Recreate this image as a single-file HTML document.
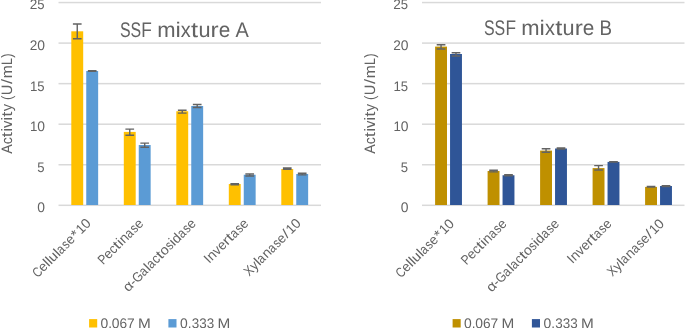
<!DOCTYPE html>
<html><head><meta charset="utf-8"><title>SSF mixtures A and B</title><style>
html,body{margin:0;padding:0;background:#fff;}
body{width:685px;height:328px;overflow:hidden;}
svg{display:block;will-change:transform;}
text{font-family:"Liberation Sans",sans-serif;fill:#636363;text-rendering:geometricPrecision;}
</style></head><body>
<svg width="685" height="328" viewBox="0 0 685 328">
<rect width="685" height="328" fill="#fff"/>

<rect x="58.50" y="204.55" width="262.50" height="1.5" fill="#D9D9D9"/>
<rect x="58.50" y="164.00" width="262.50" height="1.5" fill="#D9D9D9"/>
<rect x="58.50" y="123.45" width="262.50" height="1.5" fill="#D9D9D9"/>
<rect x="58.50" y="82.90" width="262.50" height="1.5" fill="#D9D9D9"/>
<rect x="58.50" y="42.35" width="262.50" height="1.5" fill="#D9D9D9"/>
<rect x="58.50" y="1.80" width="262.50" height="1.5" fill="#D9D9D9"/>
<rect x="71.30" y="31.30" width="11.9" height="173.70" fill="#FFC000"/>
<rect x="86.25" y="71.00" width="11.9" height="134.00" fill="#5B9BD5"/>
<path d="M72.90 24.00H81.60M77.25 24.00V38.80M72.90 38.80H81.60" stroke="#636363" stroke-width="1.4" fill="none"/>
<path d="M87.85 70.80H96.55M92.20 70.80V71.40M87.85 71.40H96.55" stroke="#636363" stroke-width="1.4" fill="none"/>
<rect x="123.80" y="131.90" width="11.9" height="73.10" fill="#FFC000"/>
<rect x="138.75" y="145.00" width="11.9" height="60.00" fill="#5B9BD5"/>
<path d="M125.40 129.10H134.10M129.75 129.10V135.25M125.40 135.25H134.10" stroke="#636363" stroke-width="1.4" fill="none"/>
<path d="M140.35 143.10H149.05M144.70 143.10V147.25M140.35 147.25H149.05" stroke="#636363" stroke-width="1.4" fill="none"/>
<rect x="176.30" y="111.25" width="11.9" height="93.75" fill="#FFC000"/>
<rect x="191.25" y="106.00" width="11.9" height="99.00" fill="#5B9BD5"/>
<path d="M177.90 110.25H186.60M182.25 110.25V113.10M177.90 113.10H186.60" stroke="#636363" stroke-width="1.4" fill="none"/>
<path d="M192.85 104.50H201.55M197.20 104.50V107.50M192.85 107.50H201.55" stroke="#636363" stroke-width="1.4" fill="none"/>
<rect x="228.80" y="184.00" width="11.9" height="21.00" fill="#FFC000"/>
<rect x="243.75" y="174.75" width="11.9" height="30.25" fill="#5B9BD5"/>
<path d="M230.40 183.60H239.10M234.75 183.60V184.90M230.40 184.90H239.10" stroke="#636363" stroke-width="1.4" fill="none"/>
<path d="M245.35 174.00H254.05M249.70 174.00V176.00M245.35 176.00H254.05" stroke="#636363" stroke-width="1.4" fill="none"/>
<rect x="281.30" y="169.00" width="11.9" height="36.00" fill="#FFC000"/>
<rect x="296.25" y="174.00" width="11.9" height="31.00" fill="#5B9BD5"/>
<path d="M282.90 167.90H291.60M287.25 167.90V169.30M282.90 169.30H291.60" stroke="#636363" stroke-width="1.4" fill="none"/>
<path d="M297.85 173.30H306.55M302.20 173.30V174.90M297.85 174.90H306.55" stroke="#636363" stroke-width="1.4" fill="none"/>
<rect x="89.10" y="319.1" width="8.1" height="8.4" fill="#FFC000"/>
<rect x="168.40" y="319.1" width="8.1" height="8.4" fill="#5B9BD5"/>
<rect x="422.00" y="204.55" width="262.50" height="1.5" fill="#D9D9D9"/>
<rect x="422.00" y="164.00" width="262.50" height="1.5" fill="#D9D9D9"/>
<rect x="422.00" y="123.45" width="262.50" height="1.5" fill="#D9D9D9"/>
<rect x="422.00" y="82.90" width="262.50" height="1.5" fill="#D9D9D9"/>
<rect x="422.00" y="42.35" width="262.50" height="1.5" fill="#D9D9D9"/>
<rect x="422.00" y="1.80" width="262.50" height="1.5" fill="#D9D9D9"/>
<rect x="435.10" y="46.60" width="11.9" height="158.40" fill="#BF9000"/>
<rect x="450.05" y="54.00" width="11.9" height="151.00" fill="#2F5597"/>
<path d="M436.70 44.75H445.40M441.05 44.75V49.00M436.70 49.00H445.40" stroke="#636363" stroke-width="1.4" fill="none"/>
<path d="M451.65 52.75H460.35M456.00 52.75V56.00M451.65 56.00H460.35" stroke="#636363" stroke-width="1.4" fill="none"/>
<rect x="487.60" y="171.00" width="11.9" height="34.00" fill="#BF9000"/>
<rect x="502.55" y="175.25" width="11.9" height="29.75" fill="#2F5597"/>
<path d="M489.20 170.20H497.90M493.55 170.20V171.90M489.20 171.90H497.90" stroke="#636363" stroke-width="1.4" fill="none"/>
<path d="M504.15 174.80H512.85M508.50 174.80V175.80M504.15 175.80H512.85" stroke="#636363" stroke-width="1.4" fill="none"/>
<rect x="540.10" y="150.60" width="11.9" height="54.40" fill="#BF9000"/>
<rect x="555.05" y="148.50" width="11.9" height="56.50" fill="#2F5597"/>
<path d="M541.70 148.75H550.40M546.05 148.75V152.25M541.70 152.25H550.40" stroke="#636363" stroke-width="1.4" fill="none"/>
<path d="M556.65 147.90H565.35M561.00 147.90V149.00M556.65 149.00H565.35" stroke="#636363" stroke-width="1.4" fill="none"/>
<rect x="592.60" y="168.10" width="11.9" height="36.90" fill="#BF9000"/>
<rect x="607.55" y="161.90" width="11.9" height="43.10" fill="#2F5597"/>
<path d="M594.20 165.60H602.90M598.55 165.60V170.00M594.20 170.00H602.90" stroke="#636363" stroke-width="1.4" fill="none"/>
<path d="M609.15 161.60H617.85M613.50 161.60V162.10M609.15 162.10H617.85" stroke="#636363" stroke-width="1.4" fill="none"/>
<rect x="645.10" y="186.90" width="11.9" height="18.10" fill="#BF9000"/>
<rect x="660.05" y="186.00" width="11.9" height="19.00" fill="#2F5597"/>
<path d="M646.70 186.40H655.40M651.05 186.40V187.10M646.70 187.10H655.40" stroke="#636363" stroke-width="1.4" fill="none"/>
<path d="M661.65 185.60H670.35M666.00 185.60V186.60M661.65 186.60H670.35" stroke="#636363" stroke-width="1.4" fill="none"/>
<rect x="452.60" y="319.1" width="8.1" height="8.4" fill="#BF9000"/>
<rect x="531.90" y="319.1" width="8.1" height="8.4" fill="#2F5597"/>
<g>
<text transform="translate(44.85,212.45)" y="0" style="font-size:13.86px"><tspan x="-7.64" textLength="7.72" lengthAdjust="spacingAndGlyphs">0</tspan></text>
<text transform="translate(44.85,171.80)" y="0" style="font-size:13.86px"><tspan x="-7.51" textLength="7.29" lengthAdjust="spacingAndGlyphs">5</tspan></text>
<text transform="translate(44.85,131.20)" y="0" style="font-size:13.86px"><tspan x="-14.89" textLength="7.38" lengthAdjust="spacingAndGlyphs">1</tspan><tspan x="-7.64" textLength="7.72" lengthAdjust="spacingAndGlyphs">0</tspan></text>
<text transform="translate(44.85,90.50)" y="0" style="font-size:13.86px"><tspan x="-14.89" textLength="7.38" lengthAdjust="spacingAndGlyphs">1</tspan><tspan x="-7.51" textLength="7.29" lengthAdjust="spacingAndGlyphs">5</tspan></text>
<text transform="translate(44.85,49.95)" y="0" style="font-size:13.86px"><tspan x="-15.10" textLength="7.59" lengthAdjust="spacingAndGlyphs">2</tspan><tspan x="-7.64" textLength="7.72" lengthAdjust="spacingAndGlyphs">0</tspan></text>
<text transform="translate(44.85,9.30)" y="0" style="font-size:13.86px"><tspan x="-15.10" textLength="7.59" lengthAdjust="spacingAndGlyphs">2</tspan><tspan x="-7.51" textLength="7.29" lengthAdjust="spacingAndGlyphs">5</tspan></text>
<text transform="translate(120.00,36.80)" y="0" style="font-size:21.21px"><tspan x="-0.10" textLength="10.63" lengthAdjust="spacingAndGlyphs">S</tspan><tspan x="10.52" textLength="10.63" lengthAdjust="spacingAndGlyphs">S</tspan><tspan x="21.34" textLength="10.55" lengthAdjust="spacingAndGlyphs">F</tspan><tspan x="31.84"> </tspan><tspan x="37.21" textLength="18.33" lengthAdjust="spacingAndGlyphs">m</tspan><tspan x="55.51" textLength="5.30" lengthAdjust="spacingAndGlyphs">i</tspan><tspan x="60.83" textLength="9.96" lengthAdjust="spacingAndGlyphs">x</tspan><tspan x="71.05" textLength="7.07" lengthAdjust="spacingAndGlyphs">t</tspan><tspan x="78.53" textLength="12.06" lengthAdjust="spacingAndGlyphs">u</tspan><tspan x="90.58" textLength="8.11" lengthAdjust="spacingAndGlyphs">r</tspan><tspan x="98.74" textLength="11.56" lengthAdjust="spacingAndGlyphs">e</tspan><tspan x="110.24"> </tspan><tspan x="115.49" textLength="13.32" lengthAdjust="spacingAndGlyphs">A</tspan></text>
<text transform="translate(11.70,153.80) rotate(-90)" y="0" style="font-size:15.10px"><tspan x="0.02" textLength="9.49" lengthAdjust="spacingAndGlyphs">A</tspan><tspan x="9.50" textLength="7.00" lengthAdjust="spacingAndGlyphs">c</tspan><tspan x="16.63" textLength="5.03" lengthAdjust="spacingAndGlyphs">t</tspan><tspan x="21.98" textLength="3.78" lengthAdjust="spacingAndGlyphs">i</tspan><tspan x="25.81" textLength="7.33" lengthAdjust="spacingAndGlyphs">v</tspan><tspan x="33.18" textLength="3.78" lengthAdjust="spacingAndGlyphs">i</tspan><tspan x="37.12" textLength="5.03" lengthAdjust="spacingAndGlyphs">t</tspan><tspan x="42.49" textLength="7.38" lengthAdjust="spacingAndGlyphs">y</tspan><tspan x="49.92"> </tspan><tspan x="53.78" textLength="4.35" lengthAdjust="spacingAndGlyphs">(</tspan><tspan x="58.63" textLength="10.56" lengthAdjust="spacingAndGlyphs">U</tspan><tspan x="69.83" textLength="5.03" lengthAdjust="spacingAndGlyphs">/</tspan><tspan x="75.64" textLength="13.05" lengthAdjust="spacingAndGlyphs">m</tspan><tspan x="88.77" textLength="6.95" lengthAdjust="spacingAndGlyphs">L</tspan><tspan x="96.09" textLength="4.35" lengthAdjust="spacingAndGlyphs">)</tspan></text>
<text transform="translate(91.65,224.20) rotate(-45)" y="0" style="font-size:13.68px"><tspan x="-76.38" textLength="8.06" lengthAdjust="spacingAndGlyphs">C</tspan><tspan x="-68.41" textLength="7.46" lengthAdjust="spacingAndGlyphs">e</tspan><tspan x="-60.99" textLength="3.42" lengthAdjust="spacingAndGlyphs">l</tspan><tspan x="-57.57" textLength="3.42" lengthAdjust="spacingAndGlyphs">l</tspan><tspan x="-54.17" textLength="7.78" lengthAdjust="spacingAndGlyphs">u</tspan><tspan x="-46.33" textLength="3.42" lengthAdjust="spacingAndGlyphs">l</tspan><tspan x="-43.04" textLength="6.61" lengthAdjust="spacingAndGlyphs">a</tspan><tspan x="-35.64" textLength="5.68" lengthAdjust="spacingAndGlyphs">s</tspan><tspan x="-29.94" textLength="7.46" lengthAdjust="spacingAndGlyphs">e</tspan><tspan x="-21.84" textLength="6.02" lengthAdjust="spacingAndGlyphs">*</tspan><tspan x="-14.89" textLength="7.38" lengthAdjust="spacingAndGlyphs">1</tspan><tspan x="-7.64" textLength="7.72" lengthAdjust="spacingAndGlyphs">0</tspan></text>
<text transform="translate(144.15,224.20) rotate(-45)" y="0" style="font-size:13.68px"><tspan x="-57.90" textLength="7.71" lengthAdjust="spacingAndGlyphs">P</tspan><tspan x="-50.34" textLength="7.46" lengthAdjust="spacingAndGlyphs">e</tspan><tspan x="-42.94" textLength="6.34" lengthAdjust="spacingAndGlyphs">c</tspan><tspan x="-36.47" textLength="4.56" lengthAdjust="spacingAndGlyphs">t</tspan><tspan x="-31.63" textLength="3.42" lengthAdjust="spacingAndGlyphs">i</tspan><tspan x="-28.14" textLength="7.78" lengthAdjust="spacingAndGlyphs">n</tspan><tspan x="-20.52" textLength="6.61" lengthAdjust="spacingAndGlyphs">a</tspan><tspan x="-13.11" textLength="5.68" lengthAdjust="spacingAndGlyphs">s</tspan><tspan x="-7.42" textLength="7.46" lengthAdjust="spacingAndGlyphs">e</tspan></text>
<text transform="translate(196.65,224.20) rotate(-45)" y="0" style="font-size:13.68px"><tspan x="-96.69" textLength="8.67" lengthAdjust="spacingAndGlyphs">α</tspan><tspan x="-88.30" textLength="4.65" lengthAdjust="spacingAndGlyphs">-</tspan><tspan x="-83.71" textLength="9.50" lengthAdjust="spacingAndGlyphs">G</tspan><tspan x="-74.44" textLength="6.61" lengthAdjust="spacingAndGlyphs">a</tspan><tspan x="-67.16" textLength="3.42" lengthAdjust="spacingAndGlyphs">l</tspan><tspan x="-63.88" textLength="6.61" lengthAdjust="spacingAndGlyphs">a</tspan><tspan x="-56.62" textLength="6.34" lengthAdjust="spacingAndGlyphs">c</tspan><tspan x="-50.16" textLength="4.56" lengthAdjust="spacingAndGlyphs">t</tspan><tspan x="-45.34" textLength="7.91" lengthAdjust="spacingAndGlyphs">o</tspan><tspan x="-37.33" textLength="5.68" lengthAdjust="spacingAndGlyphs">s</tspan><tspan x="-31.63" textLength="3.42" lengthAdjust="spacingAndGlyphs">i</tspan><tspan x="-28.28" textLength="7.77" lengthAdjust="spacingAndGlyphs">d</tspan><tspan x="-20.52" textLength="6.61" lengthAdjust="spacingAndGlyphs">a</tspan><tspan x="-13.11" textLength="5.68" lengthAdjust="spacingAndGlyphs">s</tspan><tspan x="-7.42" textLength="7.46" lengthAdjust="spacingAndGlyphs">e</tspan></text>
<text transform="translate(249.15,224.20) rotate(-45)" y="0" style="font-size:13.68px"><tspan x="-56.29" textLength="3.75" lengthAdjust="spacingAndGlyphs">I</tspan><tspan x="-52.47" textLength="7.78" lengthAdjust="spacingAndGlyphs">n</tspan><tspan x="-44.66" textLength="6.64" lengthAdjust="spacingAndGlyphs">v</tspan><tspan x="-37.98" textLength="7.46" lengthAdjust="spacingAndGlyphs">e</tspan><tspan x="-30.64" textLength="5.23" lengthAdjust="spacingAndGlyphs">r</tspan><tspan x="-25.23" textLength="4.56" lengthAdjust="spacingAndGlyphs">t</tspan><tspan x="-20.52" textLength="6.61" lengthAdjust="spacingAndGlyphs">a</tspan><tspan x="-13.11" textLength="5.68" lengthAdjust="spacingAndGlyphs">s</tspan><tspan x="-7.42" textLength="7.46" lengthAdjust="spacingAndGlyphs">e</tspan></text>
<text transform="translate(301.65,224.20) rotate(-45)" y="0" style="font-size:13.68px"><tspan x="-74.20" textLength="7.92" lengthAdjust="spacingAndGlyphs">X</tspan><tspan x="-66.35" textLength="6.68" lengthAdjust="spacingAndGlyphs">y</tspan><tspan x="-59.63" textLength="3.42" lengthAdjust="spacingAndGlyphs">l</tspan><tspan x="-56.34" textLength="6.61" lengthAdjust="spacingAndGlyphs">a</tspan><tspan x="-49.00" textLength="7.78" lengthAdjust="spacingAndGlyphs">n</tspan><tspan x="-41.38" textLength="6.61" lengthAdjust="spacingAndGlyphs">a</tspan><tspan x="-33.97" textLength="5.68" lengthAdjust="spacingAndGlyphs">s</tspan><tspan x="-28.28" textLength="7.46" lengthAdjust="spacingAndGlyphs">e</tspan><tspan x="-20.27" textLength="4.56" lengthAdjust="spacingAndGlyphs">/</tspan><tspan x="-14.89" textLength="7.38" lengthAdjust="spacingAndGlyphs">1</tspan><tspan x="-7.64" textLength="7.72" lengthAdjust="spacingAndGlyphs">0</tspan></text>
<text transform="translate(100.60,327.50)" y="0" style="font-size:13.86px"><tspan x="-0.08" textLength="7.72" lengthAdjust="spacingAndGlyphs">0</tspan><tspan x="7.54" textLength="3.76" lengthAdjust="spacingAndGlyphs">.</tspan><tspan x="11.23" textLength="7.72" lengthAdjust="spacingAndGlyphs">0</tspan><tspan x="18.86" textLength="7.61" lengthAdjust="spacingAndGlyphs">6</tspan><tspan x="26.47" textLength="7.67" lengthAdjust="spacingAndGlyphs">7</tspan><tspan x="33.97"> </tspan><tspan x="37.31" textLength="12.79" lengthAdjust="spacingAndGlyphs">M</tspan></text>
<text transform="translate(180.20,327.50)" y="0" style="font-size:13.86px"><tspan x="-0.08" textLength="7.72" lengthAdjust="spacingAndGlyphs">0</tspan><tspan x="7.54" textLength="3.76" lengthAdjust="spacingAndGlyphs">.</tspan><tspan x="11.46" textLength="7.47" lengthAdjust="spacingAndGlyphs">3</tspan><tspan x="19.01" textLength="7.47" lengthAdjust="spacingAndGlyphs">3</tspan><tspan x="26.56" textLength="7.47" lengthAdjust="spacingAndGlyphs">3</tspan><tspan x="33.97"> </tspan><tspan x="37.31" textLength="12.79" lengthAdjust="spacingAndGlyphs">M</tspan></text>
<text transform="translate(408.35,212.45)" y="0" style="font-size:13.86px"><tspan x="-7.64" textLength="7.72" lengthAdjust="spacingAndGlyphs">0</tspan></text>
<text transform="translate(408.35,171.80)" y="0" style="font-size:13.86px"><tspan x="-7.51" textLength="7.29" lengthAdjust="spacingAndGlyphs">5</tspan></text>
<text transform="translate(408.35,131.20)" y="0" style="font-size:13.86px"><tspan x="-14.89" textLength="7.38" lengthAdjust="spacingAndGlyphs">1</tspan><tspan x="-7.64" textLength="7.72" lengthAdjust="spacingAndGlyphs">0</tspan></text>
<text transform="translate(408.35,90.50)" y="0" style="font-size:13.86px"><tspan x="-14.89" textLength="7.38" lengthAdjust="spacingAndGlyphs">1</tspan><tspan x="-7.51" textLength="7.29" lengthAdjust="spacingAndGlyphs">5</tspan></text>
<text transform="translate(408.35,49.95)" y="0" style="font-size:13.86px"><tspan x="-15.10" textLength="7.59" lengthAdjust="spacingAndGlyphs">2</tspan><tspan x="-7.64" textLength="7.72" lengthAdjust="spacingAndGlyphs">0</tspan></text>
<text transform="translate(408.35,9.30)" y="0" style="font-size:13.86px"><tspan x="-15.10" textLength="7.59" lengthAdjust="spacingAndGlyphs">2</tspan><tspan x="-7.51" textLength="7.29" lengthAdjust="spacingAndGlyphs">5</tspan></text>
<text transform="translate(484.10,34.80)" y="0" style="font-size:21.21px"><tspan x="-0.10" textLength="10.63" lengthAdjust="spacingAndGlyphs">S</tspan><tspan x="10.52" textLength="10.63" lengthAdjust="spacingAndGlyphs">S</tspan><tspan x="21.34" textLength="10.55" lengthAdjust="spacingAndGlyphs">F</tspan><tspan x="31.84"> </tspan><tspan x="37.21" textLength="18.33" lengthAdjust="spacingAndGlyphs">m</tspan><tspan x="55.51" textLength="5.30" lengthAdjust="spacingAndGlyphs">i</tspan><tspan x="60.83" textLength="9.96" lengthAdjust="spacingAndGlyphs">x</tspan><tspan x="71.05" textLength="7.07" lengthAdjust="spacingAndGlyphs">t</tspan><tspan x="78.53" textLength="12.06" lengthAdjust="spacingAndGlyphs">u</tspan><tspan x="90.58" textLength="8.11" lengthAdjust="spacingAndGlyphs">r</tspan><tspan x="98.74" textLength="11.56" lengthAdjust="spacingAndGlyphs">e</tspan><tspan x="110.24"> </tspan><tspan x="115.53" textLength="12.52" lengthAdjust="spacingAndGlyphs">B</tspan></text>
<text transform="translate(375.20,153.80) rotate(-90)" y="0" style="font-size:15.10px"><tspan x="0.02" textLength="9.49" lengthAdjust="spacingAndGlyphs">A</tspan><tspan x="9.50" textLength="7.00" lengthAdjust="spacingAndGlyphs">c</tspan><tspan x="16.63" textLength="5.03" lengthAdjust="spacingAndGlyphs">t</tspan><tspan x="21.98" textLength="3.78" lengthAdjust="spacingAndGlyphs">i</tspan><tspan x="25.81" textLength="7.33" lengthAdjust="spacingAndGlyphs">v</tspan><tspan x="33.18" textLength="3.78" lengthAdjust="spacingAndGlyphs">i</tspan><tspan x="37.12" textLength="5.03" lengthAdjust="spacingAndGlyphs">t</tspan><tspan x="42.49" textLength="7.38" lengthAdjust="spacingAndGlyphs">y</tspan><tspan x="49.92"> </tspan><tspan x="53.78" textLength="4.35" lengthAdjust="spacingAndGlyphs">(</tspan><tspan x="58.63" textLength="10.56" lengthAdjust="spacingAndGlyphs">U</tspan><tspan x="69.83" textLength="5.03" lengthAdjust="spacingAndGlyphs">/</tspan><tspan x="75.64" textLength="13.05" lengthAdjust="spacingAndGlyphs">m</tspan><tspan x="88.77" textLength="6.95" lengthAdjust="spacingAndGlyphs">L</tspan><tspan x="96.09" textLength="4.35" lengthAdjust="spacingAndGlyphs">)</tspan></text>
<text transform="translate(454.90,224.50) rotate(-45)" y="0" style="font-size:13.68px"><tspan x="-76.38" textLength="8.06" lengthAdjust="spacingAndGlyphs">C</tspan><tspan x="-68.41" textLength="7.46" lengthAdjust="spacingAndGlyphs">e</tspan><tspan x="-60.99" textLength="3.42" lengthAdjust="spacingAndGlyphs">l</tspan><tspan x="-57.57" textLength="3.42" lengthAdjust="spacingAndGlyphs">l</tspan><tspan x="-54.17" textLength="7.78" lengthAdjust="spacingAndGlyphs">u</tspan><tspan x="-46.33" textLength="3.42" lengthAdjust="spacingAndGlyphs">l</tspan><tspan x="-43.04" textLength="6.61" lengthAdjust="spacingAndGlyphs">a</tspan><tspan x="-35.64" textLength="5.68" lengthAdjust="spacingAndGlyphs">s</tspan><tspan x="-29.94" textLength="7.46" lengthAdjust="spacingAndGlyphs">e</tspan><tspan x="-21.84" textLength="6.02" lengthAdjust="spacingAndGlyphs">*</tspan><tspan x="-14.89" textLength="7.38" lengthAdjust="spacingAndGlyphs">1</tspan><tspan x="-7.64" textLength="7.72" lengthAdjust="spacingAndGlyphs">0</tspan></text>
<text transform="translate(507.40,224.50) rotate(-45)" y="0" style="font-size:13.68px"><tspan x="-57.90" textLength="7.71" lengthAdjust="spacingAndGlyphs">P</tspan><tspan x="-50.34" textLength="7.46" lengthAdjust="spacingAndGlyphs">e</tspan><tspan x="-42.94" textLength="6.34" lengthAdjust="spacingAndGlyphs">c</tspan><tspan x="-36.47" textLength="4.56" lengthAdjust="spacingAndGlyphs">t</tspan><tspan x="-31.63" textLength="3.42" lengthAdjust="spacingAndGlyphs">i</tspan><tspan x="-28.14" textLength="7.78" lengthAdjust="spacingAndGlyphs">n</tspan><tspan x="-20.52" textLength="6.61" lengthAdjust="spacingAndGlyphs">a</tspan><tspan x="-13.11" textLength="5.68" lengthAdjust="spacingAndGlyphs">s</tspan><tspan x="-7.42" textLength="7.46" lengthAdjust="spacingAndGlyphs">e</tspan></text>
<text transform="translate(559.90,224.50) rotate(-45)" y="0" style="font-size:13.68px"><tspan x="-96.69" textLength="8.67" lengthAdjust="spacingAndGlyphs">α</tspan><tspan x="-88.30" textLength="4.65" lengthAdjust="spacingAndGlyphs">-</tspan><tspan x="-83.71" textLength="9.50" lengthAdjust="spacingAndGlyphs">G</tspan><tspan x="-74.44" textLength="6.61" lengthAdjust="spacingAndGlyphs">a</tspan><tspan x="-67.16" textLength="3.42" lengthAdjust="spacingAndGlyphs">l</tspan><tspan x="-63.88" textLength="6.61" lengthAdjust="spacingAndGlyphs">a</tspan><tspan x="-56.62" textLength="6.34" lengthAdjust="spacingAndGlyphs">c</tspan><tspan x="-50.16" textLength="4.56" lengthAdjust="spacingAndGlyphs">t</tspan><tspan x="-45.34" textLength="7.91" lengthAdjust="spacingAndGlyphs">o</tspan><tspan x="-37.33" textLength="5.68" lengthAdjust="spacingAndGlyphs">s</tspan><tspan x="-31.63" textLength="3.42" lengthAdjust="spacingAndGlyphs">i</tspan><tspan x="-28.28" textLength="7.77" lengthAdjust="spacingAndGlyphs">d</tspan><tspan x="-20.52" textLength="6.61" lengthAdjust="spacingAndGlyphs">a</tspan><tspan x="-13.11" textLength="5.68" lengthAdjust="spacingAndGlyphs">s</tspan><tspan x="-7.42" textLength="7.46" lengthAdjust="spacingAndGlyphs">e</tspan></text>
<text transform="translate(612.40,224.50) rotate(-45)" y="0" style="font-size:13.68px"><tspan x="-56.29" textLength="3.75" lengthAdjust="spacingAndGlyphs">I</tspan><tspan x="-52.47" textLength="7.78" lengthAdjust="spacingAndGlyphs">n</tspan><tspan x="-44.66" textLength="6.64" lengthAdjust="spacingAndGlyphs">v</tspan><tspan x="-37.98" textLength="7.46" lengthAdjust="spacingAndGlyphs">e</tspan><tspan x="-30.64" textLength="5.23" lengthAdjust="spacingAndGlyphs">r</tspan><tspan x="-25.23" textLength="4.56" lengthAdjust="spacingAndGlyphs">t</tspan><tspan x="-20.52" textLength="6.61" lengthAdjust="spacingAndGlyphs">a</tspan><tspan x="-13.11" textLength="5.68" lengthAdjust="spacingAndGlyphs">s</tspan><tspan x="-7.42" textLength="7.46" lengthAdjust="spacingAndGlyphs">e</tspan></text>
<text transform="translate(664.90,224.50) rotate(-45)" y="0" style="font-size:13.68px"><tspan x="-74.20" textLength="7.92" lengthAdjust="spacingAndGlyphs">X</tspan><tspan x="-66.35" textLength="6.68" lengthAdjust="spacingAndGlyphs">y</tspan><tspan x="-59.63" textLength="3.42" lengthAdjust="spacingAndGlyphs">l</tspan><tspan x="-56.34" textLength="6.61" lengthAdjust="spacingAndGlyphs">a</tspan><tspan x="-49.00" textLength="7.78" lengthAdjust="spacingAndGlyphs">n</tspan><tspan x="-41.38" textLength="6.61" lengthAdjust="spacingAndGlyphs">a</tspan><tspan x="-33.97" textLength="5.68" lengthAdjust="spacingAndGlyphs">s</tspan><tspan x="-28.28" textLength="7.46" lengthAdjust="spacingAndGlyphs">e</tspan><tspan x="-20.27" textLength="4.56" lengthAdjust="spacingAndGlyphs">/</tspan><tspan x="-14.89" textLength="7.38" lengthAdjust="spacingAndGlyphs">1</tspan><tspan x="-7.64" textLength="7.72" lengthAdjust="spacingAndGlyphs">0</tspan></text>
<text transform="translate(464.10,327.50)" y="0" style="font-size:13.86px"><tspan x="-0.08" textLength="7.72" lengthAdjust="spacingAndGlyphs">0</tspan><tspan x="7.54" textLength="3.76" lengthAdjust="spacingAndGlyphs">.</tspan><tspan x="11.23" textLength="7.72" lengthAdjust="spacingAndGlyphs">0</tspan><tspan x="18.86" textLength="7.61" lengthAdjust="spacingAndGlyphs">6</tspan><tspan x="26.47" textLength="7.67" lengthAdjust="spacingAndGlyphs">7</tspan><tspan x="33.97"> </tspan><tspan x="37.31" textLength="12.79" lengthAdjust="spacingAndGlyphs">M</tspan></text>
<text transform="translate(543.70,327.50)" y="0" style="font-size:13.86px"><tspan x="-0.08" textLength="7.72" lengthAdjust="spacingAndGlyphs">0</tspan><tspan x="7.54" textLength="3.76" lengthAdjust="spacingAndGlyphs">.</tspan><tspan x="11.46" textLength="7.47" lengthAdjust="spacingAndGlyphs">3</tspan><tspan x="19.01" textLength="7.47" lengthAdjust="spacingAndGlyphs">3</tspan><tspan x="26.56" textLength="7.47" lengthAdjust="spacingAndGlyphs">3</tspan><tspan x="33.97"> </tspan><tspan x="37.31" textLength="12.79" lengthAdjust="spacingAndGlyphs">M</tspan></text>
</g>
</svg>
</body></html>
